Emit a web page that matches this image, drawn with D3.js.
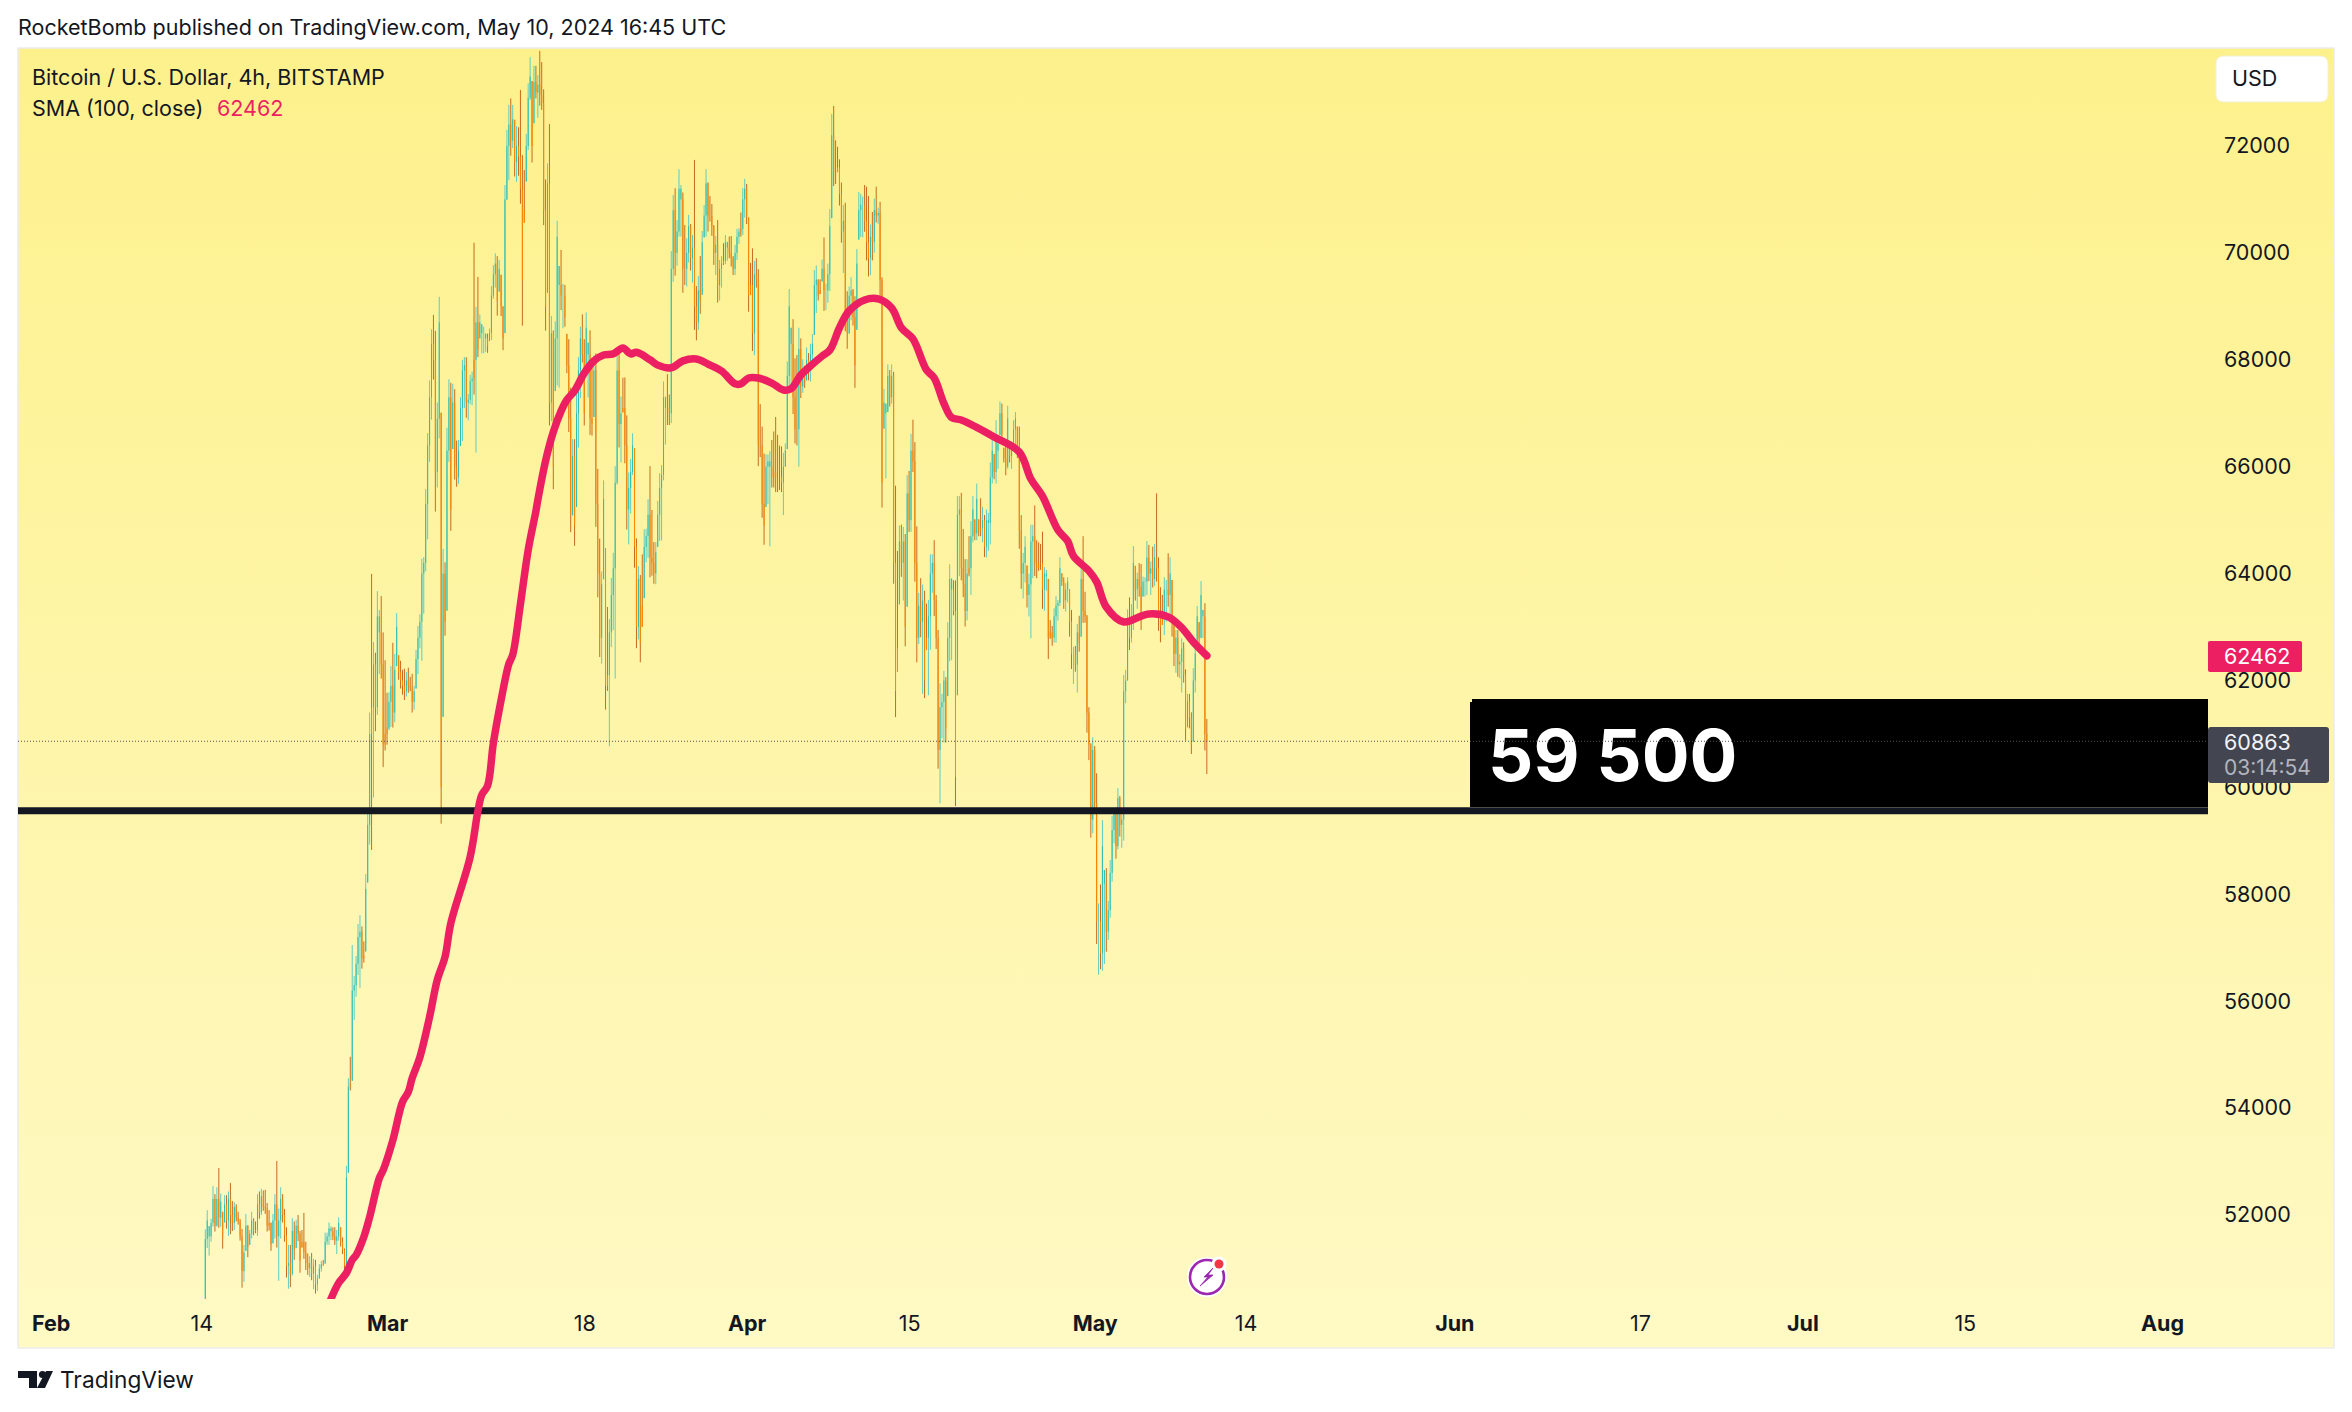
<!DOCTYPE html>
<html><head><meta charset="utf-8">
<script src="https://cdn.jsdelivr.net/npm/d3@7/dist/d3.min.js"></script>
<style>html,body{margin:0;padding:0;background:#fff}svg{display:block}text{font-family:Inter,"Noto Sans",sans-serif}</style>
</head><body><svg id="c" width="2352" height="1412"></svg>
<script>
const firstBar = "2024-02-14T08:00:00Z";
const barHours = 4;
const highs = [
51730,52090,51790,51930,52540,52390,52520,52880,52400,52060,
52370,52370,52440,52600,52260,52240,52200,52060,51925,51740,
51440,52020,51810,51720,52060,51940,51880,52390,52440,52490,
52460,52470,52225,52090,51860,52020,52390,53010,52120,52520,
52390,52110,51770,51440,51440,51940,51880,51910,52000,51700,
51720,52040,51500,51280,51230,51290,51180,51160,50880,51080,
51140,51160,51670,51670,51860,51790,51770,51770,51720,51955,
51770,51580,51375,52920,54560,54960,57050,56470,56846,57445,
57610,57400,57120,58380,59540,61400,63995,62720,62520,63670,
63320,63580,62900,62380,61770,61780,62270,62705,62500,63260,
62470,62370,62200,62220,62160,62240,62070,62125,61900,62570,
63020,63240,64280,64310,65580,66630,67615,68570,68840,68540,
67200,69180,67010,64460,64210,66730,67635,67570,67550,67450,
66490,66500,67300,68000,68050,68050,67360,67720,67780,70190,
68990,69550,68850,68665,68620,68490,68490,68585,69380,69770,
69990,69940,69870,69590,69000,71270,72300,72770,72890,72770,
72490,72375,72350,73050,71830,71550,72225,73170,73660,73215,
73500,73500,73330,73780,73570,73060,71375,71675,72410,68820,
68550,68720,70600,69755,70055,69420,69400,68485,68385,67480,
66515,66515,67395,68050,68620,68850,68385,68885,68320,68550,
67980,68085,68120,65960,64655,64040,65745,64475,63375,63150,
63920,64390,66010,68165,68185,67315,67665,67670,66960,65890,
66145,66625,66345,64660,64140,63975,64360,64830,64840,65390,
66010,65190,64590,64590,65360,65880,66030,67595,67315,67730,
67350,70035,71085,71210,70615,71565,71270,71130,70520,70275,
70710,70540,70335,71740,69380,69570,69940,70410,70895,71565,
71320,71065,70915,70520,70315,70615,69870,69940,70180,70335,
70210,70305,70315,69940,70150,70450,70460,70755,71210,71385,
71290,70665,69815,70085,69850,69900,69695,67170,66750,66245,
66230,66230,66290,66500,66660,66930,66595,66395,66380,66260,
66435,67970,69325,68600,68760,68025,68090,68600,68400,68010,
67890,68230,68125,68300,68480,69680,69765,69505,69505,69875,
70290,69425,69800,70820,72600,72750,72105,71985,71750,71315,
70900,70940,69285,69370,69545,69325,69190,70070,71140,71100,
71055,71270,71240,71065,70530,70765,71015,71240,70845,70955,
69545,67460,67180,67915,67810,67915,67775,65645,64425,64900,
64915,64875,64740,65845,65920,66615,66880,66460,64885,63640,
63915,63795,63680,63440,63505,64360,64360,64625,63600,62945,
61945,61750,62180,62065,63090,64175,63915,63875,63875,65450,
65450,65510,64835,64270,64270,64700,64980,65450,65015,65685,
65015,65410,65250,65095,65200,65135,66080,66495,66235,66870,
66435,67220,67180,66355,66510,67140,66475,66475,66870,67025,
66750,66750,65095,64390,64700,64150,64000,64915,64915,65275,
64625,64585,64555,64785,64120,64070,63900,63130,63020,63350,
63580,63505,64305,64005,63930,63820,63930,63705,63320,62630,
62645,63060,63210,64180,64700,63660,63225,61500,60825,60940,
60775,60265,57830,58185,59390,58455,58490,57875,58640,59470,
59580,59620,59985,59840,59560,62105,62200,63330,63555,63430,
64515,64145,64020,64195,64180,63945,63930,64610,64535,64225,
64505,64555,65500,64305,63745,63600,63930,63880,64380,64305,
63880,63195,62945,62945,62495,62790,62715,62210,61750,61750,
61405,62230,62645,63395,63090,63860,63320,63445,61280];
const lows = [
50430,51380,51240,51500,51780,51690,51780,51760,51780,51370,
51860,51745,51610,51640,51700,51720,51880,51820,51520,50640,
50750,51330,51210,51440,51560,51620,51660,51610,51930,52000,
52080,52020,51690,51710,51330,51470,51560,51390,50770,51560,
51860,51500,50830,50620,50650,50865,51160,51380,51510,50920,
51390,51180,50970,50880,50840,50780,50610,50530,50580,50810,
50940,51050,51090,51440,51440,51530,51530,51440,51270,51520,
51410,51270,50910,50960,52790,54330,54510,55650,56085,56490,
56250,56610,56720,56930,58220,58930,58830,59810,61050,61355,
62120,62035,60380,60690,60800,61070,61130,61120,61220,62270,
62015,61850,61735,61635,61700,61770,61800,61400,61450,61850,
62120,62600,62370,63250,64040,64640,66090,66880,67630,65160,
65610,66530,59320,61320,62840,63305,66090,64800,66330,65760,
65625,65680,66390,66480,67095,66915,66870,67170,67150,67350,
66265,68050,68400,68120,68120,68150,68130,68350,68370,69140,
69350,68826,69275,68820,68180,68500,70990,71360,71820,71960,
71430,71330,71445,70920,68640,70565,71335,71925,72860,71690,
72425,72890,72530,72755,72675,70520,68545,69255,66770,66850,
65580,67415,67520,67480,68930,68590,68620,67750,66650,64775,
65080,64520,65245,66360,67285,67950,66770,67715,67295,66595,
66580,66930,64875,63555,62440,62315,63895,61455,61805,60770,
62625,62940,62035,65665,66360,66080,67015,66065,64825,64545,
65125,65845,64110,62605,62770,62340,63005,63540,64210,64295,
63930,63960,63810,63800,64500,64610,64620,65745,66415,66780,
66780,66815,69460,69575,69760,70305,70305,69255,69400,69370,
69820,69670,69445,68560,68365,68560,68860,69215,70290,70305,
70400,70585,70320,69775,69585,69070,69110,69350,69775,69790,
69855,69900,69745,69585,69585,69870,70170,70305,70335,70660,
70540,68900,69215,68165,68085,69350,66010,66180,65045,64540,
65245,65300,64510,65610,65610,65525,65525,65565,65525,65095,
66000,66330,67365,67380,66985,66435,66395,66000,67285,67380,
67475,67615,67615,67590,67930,68465,68875,69110,69230,69465,
68915,68930,69070,69285,70650,71250,71290,71510,70885,70190,
69625,68535,68205,68480,68740,68640,67475,68560,70250,70300,
70290,70395,69860,69560,69585,69860,70000,70570,70545,69190,
65235,66710,65780,67025,67125,67180,63810,61315,62165,63425,
63940,63495,62640,63380,64780,64780,65900,63850,62340,62680,
62810,61750,61670,62575,61725,62575,63640,63205,62590,60350,
59700,60920,60840,60840,61710,62360,62380,63220,59650,61725,
63950,63875,63560,63010,63125,63950,63600,64585,64625,64625,
64700,64700,64585,64310,64300,64425,64545,65685,65765,65685,
65960,66590,66435,66080,65840,65960,66080,65960,66355,66355,
66160,64465,63715,63535,63835,63365,63200,62790,63915,63955,
63915,64050,64070,63340,63310,63680,62400,62780,62650,62710,
62710,63120,63395,63770,63340,63290,63460,62820,62215,61935,
62165,61775,62540,62820,63080,63080,61025,60510,59060,59140,
59515,57070,56495,56600,56570,56695,56925,57145,57560,58235,
58955,58665,58840,59080,58870,59005,61575,62000,62570,62710,
62945,63495,63340,63570,62945,63570,63570,63600,63860,63600,
63740,63770,63850,62930,62715,63040,62850,63100,63380,63100,
62820,62270,62145,62070,62040,61775,61960,60875,61125,61105,
60625,60855,61775,62600,62695,62790,62790,60690,60250];
const closes = [
51550,51900,51600,51850,52300,51800,52300,51950,52250,51600,
52200,51900,52300,52000,51850,52150,51950,51880,51600,50950,
51300,51800,51400,51650,51900,51700,51720,52200,52050,52350,
52150,52120,51800,51850,51450,51900,52200,51600,51900,52300,
52000,51620,51050,51100,50900,51700,51350,51800,51650,51150,
51500,51300,51100,51000,51100,50900,51050,50700,50800,51000,
51080,51080,51500,51600,51750,51700,51600,51520,51600,51850,
51500,51350,51050,52700,54400,54450,56200,56300,56700,57200,
57300,56800,56850,58100,59300,61000,61500,62300,61500,63200,
62900,62300,60800,61000,61100,61600,61900,61400,62200,63000,
62150,62000,61900,61800,62000,61900,61850,61600,61800,62400,
62800,63100,64000,64200,65300,66400,67300,68300,68000,65900,
66900,68700,60000,64000,63100,66300,67300,65200,67200,66000,
65800,66300,67100,67800,67900,67200,67250,67600,67650,68000,
68700,68200,68700,68500,68500,68400,68250,68500,69200,69600,
69800,69100,69700,69000,68400,71000,72000,72400,72100,72500,
71700,72000,71800,71200,69500,70800,72000,72900,73300,72000,
73200,73000,73150,72950,72800,70800,69000,71300,67200,68500,
66000,68400,70300,69400,69200,69200,68800,67900,66900,65100,
66200,64900,67000,67800,68400,68100,67000,68600,68100,66900,
66800,67800,65300,64000,62800,63800,65400,61900,62100,62900,
63600,64100,65700,67800,66800,67000,67100,66400,65200,65600,
65900,66400,64500,63000,63900,62700,63400,64500,64700,65100,
64300,64200,64000,64400,65100,65600,65850,67300,67100,67100,
67000,69700,70800,70000,70400,71200,71000,69700,69700,70000,
70500,69900,70100,69000,68700,69300,69100,70200,70700,71300,
70700,70700,70500,70000,70150,69400,69700,69800,69850,70200,
70100,70000,69900,69700,70000,70300,70400,70450,71000,71200,
70700,69200,69400,68500,69600,69500,66400,66400,65300,64900,
66000,66100,66000,65800,65900,65800,65800,65800,65700,66000,
66300,67700,69000,68300,67300,66700,66700,68200,67500,67800,
67600,68000,67800,68100,68300,69400,69500,69200,69300,69700,
69300,69300,69600,70500,72200,71500,71500,71600,71100,70400,
70600,68900,68500,69200,69300,68800,67900,69800,70800,70900,
70900,70600,70200,69900,70300,70200,70800,70700,70750,69500,
65700,67200,67000,67700,67300,67700,64200,61800,62600,64600,
64200,64600,63000,65500,65000,66300,66100,64200,62800,63400,
63100,63500,62000,62800,63200,64000,64200,63500,62800,60700,
61500,61600,62000,61100,62800,63900,63700,63300,60200,65100,
65200,64100,63800,63300,64000,64100,64700,65200,64750,65400,
64800,64850,65000,64500,65000,64950,65800,66300,65900,66600,
66300,67000,66600,66150,66000,66900,66200,66350,66700,66900,
66300,64800,64000,64200,64500,63600,63800,64600,64700,64200,
64100,64200,64200,63700,64000,63950,62800,62900,62800,63200,
63400,63450,64100,63850,63500,63700,63850,63100,62500,62500,
62300,62900,62700,63900,63300,63200,61400,60800,59400,60700,
59700,57500,57500,56900,58900,58200,57300,57700,58400,59200,
59500,58900,59800,59300,59400,61800,62000,63100,62800,63200,
64200,63700,63900,63750,63200,63850,63850,64300,64000,64100,
63900,64300,64100,63300,63000,63200,63700,63700,63600,64000,
63100,62500,62800,62300,62350,62600,62100,61100,61600,61300,
60800,62000,62500,63200,62800,63600,63200,61000,60863];
const barDirections = [
"TTTTTOTOTO","TOTOOTOOOO","TTOTTOOTOT","OOOOOTTOTT","OOOTOTOTOO",
"OOOOTOTOTT","TOTTTTOOTT","OOOTTOTTTT","TOOTTTOTOT","TOOOOTTOTT",
"OOOOTOOOTT","TTTTTTTTOO","TTOTOTTOTO","OTTTTOTTTO","TOTTTTOTTT",
"TOTOOTTTOT","OTOOOOTTTO","TOTOOOOTOT","OTTTOTOOOO","TOTTTOOTTO",
"OTOOOTTOOT","TTTTOTOOOT","TTOOTOOTTT","OOOTTTTTTO","OTTOTTTOOT",
"TOTOOTOTTT","OOOOTOTTOT","TOOOTTTOTT","OOOOTOOOOO","TTTOOOOOOT",
"TTTTOOOTOT","OTOTTTTOOT","OTTTTOOOOO","TOOTTOOTTT","TOOOTOTOTO",
"OTTTOTOOOT","OTOTOTOOOT","OTOOTTTOOO","TTTOTTTOOT","TOOOTOTTOT",
"OOTOTTTTOT","TTOOOTOTTT","OOOTTOTTTO","OOOOTTOOOT","TTTOOTTOOT",
"OTOTOOOOOT","OOTOTTOTTT","TOTOTTTTOT","TOTOOTTTOT","OTOOOOTTOT",
"OOTOTTOOTO","OTTTOTTOO"].join("");
const smaBars = [65,69,73,76,78,82,85,90,92,97,102,105,107,111,116,120,124,127,137,141,143,146,149,153,157,159,163,167,171,172,176,180,184,187,191,196,201,206,211,216,220,223,230,234,241,247,254,260,267,274,277,281,286,293,299,303,308,313,319,323,328,333,341,348,355,360,366,373,377,382,386,391,399,408,421,427,433,441,446,449,457,461,466,475,484,488,498,505,511,518];
const smaValues = [50430,50730,50915,51160,51250,51590,51960,52690,52840,53400,54115,54300,54560,54955,55705,56400,56830,57460,58700,59560,59860,60030,60830,61635,62310,62480,63430,64440,65170,65380,66110,66650,67040,67250,67420,67750,67980,68090,68110,68220,68110,68140,68000,67900,67850,67980,68015,67920,67790,67550,67550,67660,67660,67565,67435,67460,67715,67885,68070,68180,68600,68915,69120,69140,68970,68600,68390,67810,67660,67185,66920,66875,66735,66555,66275,65770,65450,64815,64610,64330,64050,63845,63375,63095,63205,63245,63190,62990,62720,62462];
const priceTicks = [52000,54000,56000,58000,60000,62000,64000,66000,68000,70000,72000];
const timeTicks = [["2024-02-01","Feb",1],["2024-02-14","14",0],["2024-03-01","Mar",1],["2024-03-18","18",0],["2024-04-01","Apr",1],["2024-04-15","15",0],["2024-05-01","May",1],["2024-05-14","14",0],["2024-06-01","Jun",1],["2024-06-17","17",0],["2024-07-01","Jul",1],["2024-07-15","15",0],["2024-08-01","Aug",1]];
const levelPrice = 59565;
const levelLabel = "59 500";
const lastPrice = 60863;
const smaLast = 62462;
const countdown = "03:14:54";

const svg = d3.select("#c");
const x = d3.scaleUtc().domain([new Date("2024-02-01T00:00:00Z"), new Date("2024-08-01T00:00:00Z")]).range([50.6, 2162]);
const y = d3.scaleLinear().domain([52000, 72000]).range([1215, 146]);
const barDate = i => new Date(+new Date(firstBar) + i * barHours * 3600e3);

const defs = svg.append("defs");
const g = defs.append("linearGradient").attr("id","bg").attr("x1",0).attr("y1",0).attr("x2",0).attr("y2",1);
g.append("stop").attr("offset",0).attr("stop-color","#FDF18C");
g.append("stop").attr("offset",1).attr("stop-color","#FFF9C4");
defs.append("clipPath").attr("id","pane").append("rect").attr("x",18).attr("y",49).attr("width",2190).attr("height",1250);

svg.append("rect").attr("width",2352).attr("height",1412).attr("fill","#fff");
svg.append("rect").attr("x",18).attr("y",48).attr("width",2316).attr("height",1300).attr("fill","url(#bg)").attr("stroke","#ececec").attr("stroke-width",1.5);

// header
svg.append("text").attr("x",18).attr("y",35).attr("font-size",21.5).attr("fill","#131722").text("RocketBomb published on TradingView.com, May 10, 2024 16:45 UTC");
svg.append("text").attr("x",32).attr("y",85).attr("font-size",21.5).attr("fill","#131722").text("Bitcoin / U.S. Dollar, 4h, BITSTAMP");
svg.append("text").attr("x",32).attr("y",116).attr("font-size",21.5).attr("fill","#131722").text("SMA (100, close)");
svg.append("text").attr("x",217).attr("y",116).attr("font-size",21.5).attr("fill","#EC1F63").text(smaLast);

// bars
const series = svg.append("g").attr("clip-path","url(#pane)");
const idx = d3.range(highs.length);
const up = i => barDirections[i] === "T";
const clamp = (v,i) => Math.max(lows[i], Math.min(highs[i], v));
series.append("g").selectAll("line").data(idx).join("line")
  .attr("x1", i => x(barDate(i))).attr("x2", i => x(barDate(i)))
  .attr("y1", i => y(highs[i])).attr("y2", i => y(lows[i]))
  .attr("stroke", i => up(i) ? "#5CCDC6" : "#C96A1C").attr("stroke-width",1);
series.append("g").selectAll("line").data(idx).join("line")
  .attr("x1", i => x(barDate(i))).attr("x2", i => x(barDate(i)))
  .attr("y1", i => y(clamp(i ? closes[i-1] : lows[i], i))).attr("y2", i => y(closes[i]))
  .attr("stroke", i => up(i) ? "#2BBFAD" : "#FB8A00").attr("stroke-width",1);

// level line and label box
svg.append("rect").attr("x",1470).attr("y",702).attr("width",738).attr("height",105).attr("fill","#000");
svg.append("rect").attr("x",1472).attr("y",699).attr("width",736).attr("height",5).attr("fill","#000");
svg.append("line").attr("x1",18).attr("x2",2208).attr("y1",y(levelPrice)).attr("y2",y(levelPrice)).attr("stroke","#131722").attr("stroke-width",7);
svg.append("text").attr("x",1488).attr("y",781).attr("font-size",71).attr("font-weight",700).attr("fill","#fff").text(levelLabel);
svg.append("line").attr("x1",18).attr("x2",2208).attr("y1",y(lastPrice)).attr("y2",y(lastPrice)).attr("stroke","#50535e").attr("stroke-width",1).attr("stroke-dasharray","1 2");

// SMA
const smaLine = d3.line().x((d,i)=>x(barDate(d))).y((d,i)=>y(smaValues[i])).curve(d3.curveCatmullRom.alpha(0.5));
svg.append("g").attr("clip-path","url(#pane)").append("path").attr("d",smaLine(smaBars)).attr("fill","none").attr("stroke","#EC1F63").attr("stroke-width",7.5).attr("stroke-linecap","round").attr("stroke-linejoin","round");

// price axis
const yAxis = svg.append("g").attr("transform","translate(2224,0)").call(d3.axisRight(y).tickValues(priceTicks).tickSize(0).tickPadding(0).tickFormat(d3.format("d")));
yAxis.select(".domain").remove();
yAxis.selectAll("text").attr("font-size",21.5).attr("fill","#131722").style("font-family","Inter,sans-serif");

// time axis
const xAxis = svg.append("g").attr("transform","translate(0,1316)").call(d3.axisBottom(x).tickValues(timeTicks.map(t=>new Date(t[0]+"T00:00:00Z"))).tickSize(0).tickPadding(0).tickFormat((d,i)=>timeTicks[i][1]));
xAxis.select(".domain").remove();
xAxis.selectAll("text").attr("font-size",21.5).attr("fill","#131722").style("font-family","Inter,sans-serif").attr("font-weight",(d,i)=>timeTicks[i][2]?700:400);

// USD button
svg.append("rect").attr("x",2216).attr("y",56).attr("width",112).attr("height",46).attr("rx",7).attr("fill","#fff").attr("stroke","#f4f0d0");
svg.append("text").attr("x",2232).attr("y",86).attr("font-size",21.5).attr("fill","#131722").text("USD");

// axis labels
svg.append("rect").attr("x",2208).attr("y",641).attr("width",94).attr("height",31).attr("rx",2).attr("fill","#EC1F63");
svg.append("text").attr("x",2224).attr("y",664).attr("font-size",21.5).attr("fill","#fff").text(smaLast);
svg.append("rect").attr("x",2208).attr("y",727).attr("width",121).attr("height",56).attr("rx",3).attr("fill","#434651");
svg.append("text").attr("x",2224).attr("y",750).attr("font-size",21.5).attr("fill","#f0f3fa").text(lastPrice);
svg.append("text").attr("x",2224).attr("y",775).attr("font-size",21).attr("fill","#b2b5be").text(countdown);

// lightning icon
const ic = svg.append("g").attr("transform","translate(1207,1277)");
ic.append("circle").attr("r",20).attr("fill","#fff");
ic.append("circle").attr("r",17).attr("fill","#fff").attr("stroke","#9C27B0").attr("stroke-width",2.6);
ic.append("path").attr("d","M6,-9 L-3,0 L1,0 L-7,9 L6,-2 L1,-2 Z").attr("fill","#9C27B0").attr("stroke","#9C27B0").attr("stroke-width",0.8);
ic.append("circle").attr("cx",12).attr("cy",-13).attr("r",7.5).attr("fill","#fff");
ic.append("circle").attr("cx",12).attr("cy",-13).attr("r",4.5).attr("fill","#F23645");

// footer logo
const lg = svg.append("g").attr("fill","#131722");
lg.append("path").attr("d","M18,1371 H37 V1388 H29 V1378 H18 Z");
lg.append("circle").attr("cx",42.5).attr("cy",1374.5).attr("r",3.6);
lg.append("path").attr("d","M46,1371 H53 L45,1388 H37 Z");
svg.append("text").attr("x",60).attr("y",1388).attr("font-size",22.7).attr("fill","#131722").text("TradingView");
</script></body></html>
